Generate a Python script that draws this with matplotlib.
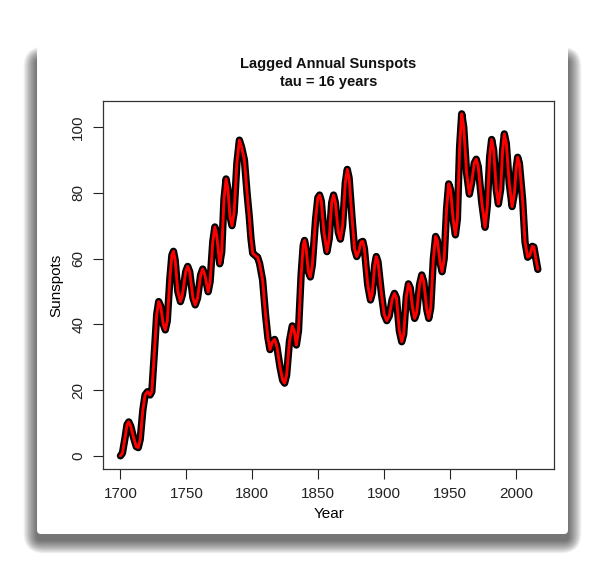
import matplotlib
matplotlib.use("Agg")
import matplotlib.pyplot as plt
from matplotlib.patches import FancyBboxPatch

plt.rcParams['font.family'] = ['Liberation Sans', 'DejaVu Sans']

# curve (year, lagged sunspot value)
years = [1700, 1701.5, 1703.5, 1705, 1706.3, 1707.8, 1710, 1712, 1713.5, 1715,
         1717, 1718.7, 1720.5, 1722.5, 1723.8, 1725.5, 1727.5, 1729, 1730.5, 1732.5,
         1734, 1735.5, 1737.5, 1739, 1740.2, 1741.5, 1743.5, 1745.5, 1747, 1749.5,
         1751, 1752.5, 1755, 1756.7, 1758.5, 1760.8, 1762.4, 1764, 1766.5, 1768,
         1770, 1771.6, 1773, 1775.3, 1776.8, 1778.5, 1780.1, 1781.5, 1783, 1784.6,
         1786.2, 1788.3, 1790.2, 1791.8, 1794, 1796, 1797.7, 1799, 1800.3, 1802,
         1804, 1805.5, 1807.8, 1810, 1811.8, 1813.4, 1815, 1816.9, 1818.5, 1821,
         1823, 1824.5, 1826, 1828.2, 1830.3, 1831.8, 1833.4, 1835, 1837, 1838.6,
         1839.6, 1840.8, 1842.5, 1844, 1845.5, 1848, 1849.7, 1851, 1852.3, 1854.3,
         1856.6, 1858.3, 1860.2, 1861.6, 1863, 1865.2, 1866.8, 1868.5, 1870.5, 1872,
         1873.4, 1875.5, 1877.5, 1879.2, 1880.6, 1882.5, 1883.8, 1885, 1887.5, 1889.6,
         1891, 1892.8, 1894, 1895.3, 1898, 1900, 1902, 1903.8, 1906, 1907.8,
         1909.3, 1911.5, 1913.3, 1914.8, 1916.8, 1918.4, 1919.8, 1921.5, 1923.1, 1924.6,
         1926.8, 1928.5, 1930, 1932.3, 1933.8, 1935.3, 1937.3, 1939, 1940.3, 1942.3,
         1943.9, 1945.5, 1947.3, 1948.9, 1950.3, 1952.3, 1954, 1955.5, 1957.2, 1958.8,
         1960.3, 1962.5, 1964.6, 1966.3, 1968.3, 1969.8, 1971.3, 1974, 1976.5, 1978.2,
         1980, 1981.5, 1983, 1985, 1986.6, 1988.3, 1989.8, 1991.1, 1992.6, 1994.8,
         1997, 1998.8, 2000, 2001.2, 2002.5, 2005, 2006.8, 2008.8, 2010.5, 2012.3,
         2013.5, 2015, 2016.5]
spots = [0.0, 0.8, 5.5, 9.5, 10.3, 9.0, 5.5, 2.8, 2.5, 5.0,
         14.0, 18.5, 19.5, 18.5, 19.5, 30.0, 43.0, 46.9, 45.5, 40.0,
         38.3, 41.0, 54.0, 61.0, 62.2, 59.5, 50.0, 46.9, 49.0, 56.0,
         57.6, 56.0, 48.0, 45.9, 48.0, 55.0, 56.8, 55.0, 49.9, 53.0,
         65.0, 69.6, 67.0, 58.4, 62.0, 78.0, 84.2, 81.0, 73.0, 70.0,
         74.0, 89.0, 96.0, 94.0, 90.0, 80.0, 72.7, 66.0, 61.6, 61.0,
         60.4, 58.5, 53.5, 43.0, 36.0, 32.3, 34.5, 35.4, 33.5, 27.0,
         23.0, 22.1, 24.5, 35.0, 39.5, 38.0, 33.7, 38.0, 55.0, 64.0,
         65.5, 63.0, 56.0, 54.4, 58.0, 72.0, 78.5, 79.3, 77.5, 68.0,
         62.1, 66.0, 77.0, 79.3, 77.0, 68.0, 65.9, 70.0, 83.0, 87.1,
         84.5, 73.0, 63.0, 60.6, 62.0, 65.0, 65.2, 63.0, 52.0, 47.4,
         49.5, 58.0, 60.6, 59.0, 49.0, 43.0, 41.1, 42.5, 47.5, 49.4,
         48.0, 38.0, 34.7, 37.0, 48.5, 52.3, 51.0, 45.0, 41.8, 43.5,
         52.0, 55.0, 53.0, 44.5, 41.8, 45.0, 60.0, 66.7, 65.5, 59.0,
         56.0, 60.0, 75.0, 82.7, 81.0, 72.0, 67.2, 72.0, 94.0, 104.0,
         100.0, 86.0, 79.6, 83.0, 89.0, 90.2, 88.0, 77.0, 69.5, 76.0,
         91.0, 96.2, 93.0, 81.0, 76.6, 81.0, 93.0, 97.9, 95.0, 83.0,
         75.8, 80.0, 87.0, 90.8, 89.0, 77.8, 65.0, 60.4, 61.0, 63.7,
         63.5, 60.0, 56.7]

x_ticks = [1700, 1750, 1800, 1850, 1900, 1950, 2000]
y_ticks = [0, 20, 40, 60, 80, 100]

W, H = 605, 579
fig = plt.figure(figsize=(W / 100, H / 100), dpi=100)
fig.patch.set_facecolor('white')

# background card with soft drop shadow (pixel coords)
bg = fig.add_axes([0, 0, 1, 1])
bg.set_xlim(0, W)
bg.set_ylim(H, 0)
bg.axis('off')
cx0, cy0, cx1, cy1 = 37, 46, 568, 534
n = 18
for i in range(n):
    e = n - i
    sh = FancyBboxPatch((cx0 - e * 0.75, cy0 + 14 - e * 0.75), (cx1 - cx0) + 1.5 * e,
                        (cy1 - cy0) + 1.5 * e - 8,
                        boxstyle="round,pad=0,rounding_size=%.1f" % (3 + e),
                        facecolor='black', edgecolor='none', alpha=0.038)
    bg.add_patch(sh)
card = FancyBboxPatch((cx0, cy0), cx1 - cx0, cy1 - cy0,
                      boxstyle="round,pad=0,rounding_size=4",
                      facecolor='white', edgecolor='none')
bg.add_patch(card)

# plot region
L, R, T, B = 103.3, 554.3, 100.7, 469.3
ax = fig.add_axes([L / W, (H - B) / H, (R - L) / W, (B - T) / H])
ax.plot(years, spots, color='black', lw=5.3, solid_capstyle='round', solid_joinstyle='round')
ax.plot(years, spots, color='red', lw=2.1, solid_capstyle='round', solid_joinstyle='round')

ax.set_xlim(1687, 2029)
ax.set_ylim(-4.1, 108)
ax.set_xticks(x_ticks)
ax.set_yticks(y_ticks)
ax.set_yticklabels([str(v) for v in y_ticks], rotation=90, va='center')
ax.tick_params(direction='out', length=7, width=0.8, colors='#222222',
               labelsize=11, pad=6)
for s in ax.spines.values():
    s.set_linewidth(0.9)
    s.set_color('#333333')

ax.set_xlabel("Year", fontsize=11, labelpad=4)
ax.set_ylabel("Sunspots", fontsize=11, labelpad=6)

fig.text(328.5 / W, 1 - 64 / H, "Lagged Annual Sunspots", ha='center', va='center',
         fontsize=10.5, fontweight='bold', color='#111111')
fig.text(328.5 / W, 1 - 82 / H, "tau = 16 years", ha='center', va='center',
         fontsize=10.5, fontweight='bold', color='#111111')

fig.savefig("out.png", dpi=100)
